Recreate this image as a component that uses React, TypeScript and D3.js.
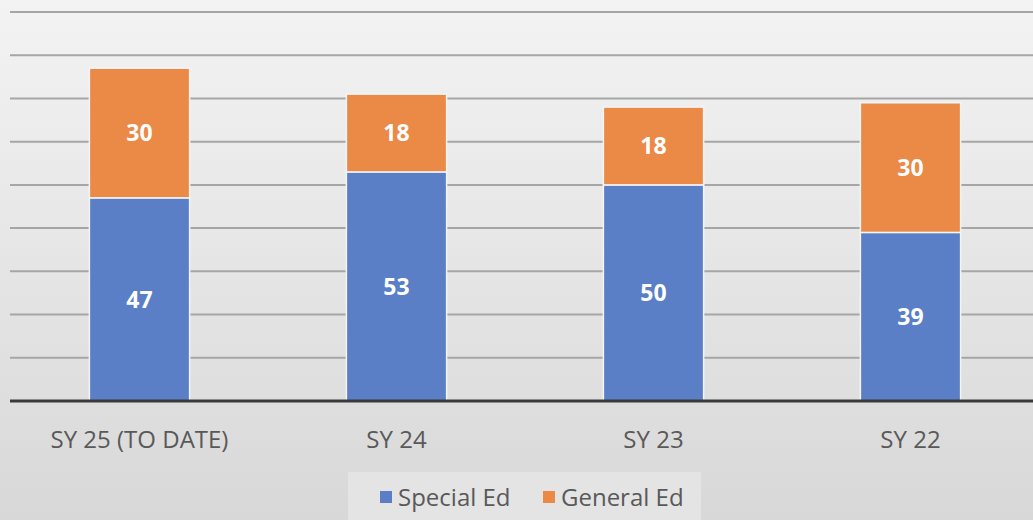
import { useRef, useEffect } from "react";
import * as d3 from "d3";

const categories = ["SY 25 (TO DATE)", "SY 24", "SY 23", "SY 22"];
const specialEd = [47, 53, 50, 39];
const generalEd = [30, 18, 18, 30];
const seriesNames = ["Special Ed", "General Ed"];
const seriesColors = ["#5a7fc7", "#eb8a47"];
const yTicks = [0, 10, 20, 30, 40, 50, 60, 70, 80, 90];

const W = 1033;
const H = 520;

export default function App() {
  const svgRef = useRef<SVGSVGElement | null>(null);

  useEffect(() => {
    const svg = d3.select(svgRef.current);
    svg.selectAll("*").remove();

    const margin = { top: 12, right: -6, bottom: 119, left: 11 };

    // background gradient, light top to grey bottom
    const defs = svg.append("defs");
    const grad = defs
      .append("linearGradient")
      .attr("id", "bg")
      .attr("x1", 0)
      .attr("y1", 0)
      .attr("x2", 0)
      .attr("y2", 1);
    grad.append("stop").attr("offset", "0%").attr("stop-color", "#f3f3f3");
    grad.append("stop").attr("offset", "100%").attr("stop-color", "#d8d8d8");

    svg
      .append("rect")
      .attr("width", W)
      .attr("height", H)
      .attr("fill", "url(#bg)");

    const x = d3
      .scaleBand()
      .domain(categories)
      .range([margin.left, W - margin.right])
      .paddingInner(0.61)
      .paddingOuter(0.305);

    const y = d3
      .scaleLinear()
      .domain([0, 90])
      .range([H - margin.bottom, margin.top]);

    // gridlines
    svg
      .append("g")
      .selectAll("line")
      .data(yTicks.slice(1))
      .join("line")
      .attr("x1", 10)
      .attr("x2", W)
      .attr("y1", (d) => y(d))
      .attr("y2", (d) => y(d))
      .attr("stroke", "#a6a6a6")
      .attr("stroke-width", 2);

    const stacked = categories.map((c, i) => ({
      cat: c,
      parts: [
        { key: 0, y0: 0, y1: specialEd[i], v: specialEd[i] },
        { key: 1, y0: specialEd[i], y1: specialEd[i] + generalEd[i], v: generalEd[i] },
      ],
    }));

    const groups = svg
      .append("g")
      .selectAll("g")
      .data(stacked)
      .join("g");

    groups
      .selectAll("rect")
      .data((d) => d.parts.map((p) => ({ ...p, cat: d.cat })))
      .join("rect")
      .attr("x", (d) => x(d.cat)!)
      .attr("width", x.bandwidth())
      .attr("y", (d) => y(d.y1))
      .attr("height", (d) => y(d.y0) - y(d.y1))
      .attr("fill", (d) => seriesColors[d.key])
      .attr("stroke", "#f4f4f4")
      .attr("stroke-width", 1.5);

    groups
      .selectAll("text")
      .data((d) => d.parts.map((p) => ({ ...p, cat: d.cat })))
      .join("text")
      .attr("x", (d) => x(d.cat)! + x.bandwidth() / 2)
      .attr("y", (d) => y((d.y0 + d.y1) / 2))
      .attr("dy", "0.36em")
      .attr("text-anchor", "middle")
      .attr("fill", "#ffffff")
      .attr("font-weight", "bold")
      .attr("font-size", 23)
      .attr("font-family", "'Open Sans', sans-serif")
      .text((d) => d.v);

    // baseline
    svg
      .append("line")
      .attr("x1", 10)
      .attr("x2", W)
      .attr("y1", y(0))
      .attr("y2", y(0))
      .attr("stroke", "#3a3a3a")
      .attr("stroke-width", 3);

    // category labels
    svg
      .append("g")
      .selectAll("text")
      .data(categories)
      .join("text")
      .attr("x", (d) => x(d)! + x.bandwidth() / 2)
      .attr("y", y(0) + 47)
      .attr("text-anchor", "middle")
      .attr("fill", "#595959")
      .attr("font-size", 24)
      .attr("font-family", "'Open Sans', sans-serif")
      .text((d) => d);

    // legend
    const lg = svg.append("g");
    lg.append("rect")
      .attr("x", 348)
      .attr("y", 472)
      .attr("width", 353)
      .attr("height", 48)
      .attr("fill", "#e4e4e4");
    const items = [
      { name: seriesNames[0], color: seriesColors[0], x: 380 },
      { name: seriesNames[1], color: seriesColors[1], x: 543 },
    ];
    items.forEach((it) => {
      lg.append("rect")
        .attr("x", it.x)
        .attr("y", 491)
        .attr("width", 12)
        .attr("height", 12)
        .attr("fill", it.color);
      lg.append("text")
        .attr("x", it.x + 18)
        .attr("y", 506)
        .attr("fill", "#595959")
        .attr("font-size", 24)
        .attr("font-family", "'Open Sans', sans-serif")
        .text(it.name);
    });
  }, []);

  return (
    <svg
      ref={svgRef}
      width={W}
      height={H}
      style={{ position: "absolute", left: 0, top: 0 }}
    />
  );
}
